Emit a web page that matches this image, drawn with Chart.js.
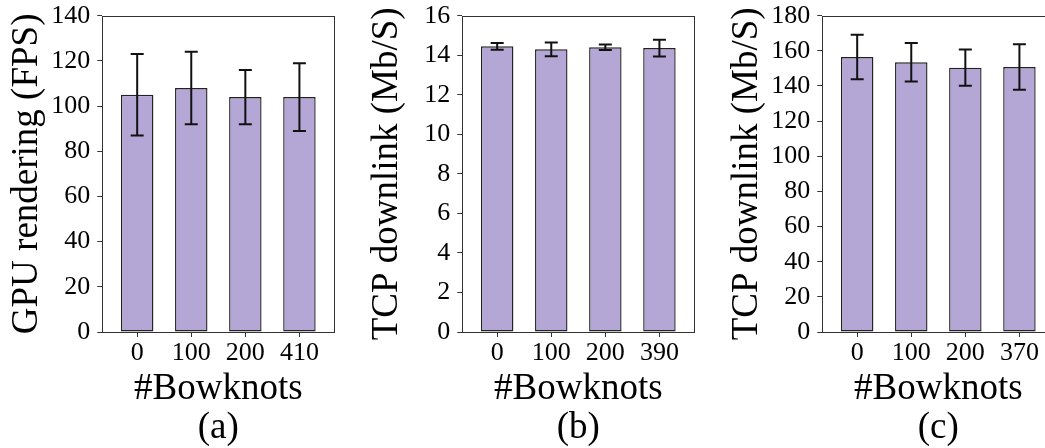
<!DOCTYPE html>
<html>
<head>
<meta charset="utf-8">
<script src="https://cdn.jsdelivr.net/npm/chart.js@4.4.1/dist/chart.umd.min.js"></script>
<style>
  html, body { margin: 0; padding: 0; background: #fff; overflow: hidden; }
  .panel { position: absolute; top: 0; width: 360px; height: 448px; }
</style>
</head>
<body>
<div class="panel" style="left:0px"><canvas id="chartA" width="360" height="448"></canvas></div>
<div class="panel" style="left:360px"><canvas id="chartB" width="360" height="448"></canvas></div>
<div class="panel" style="left:720px"><canvas id="chartC" width="360" height="448"></canvas></div>
<script>
// data
const bowknotsA = ['0', '100', '200', '410'];
const bowknotsB = ['0', '100', '200', '390'];
const bowknotsC = ['0', '100', '200', '370'];

const gpuFps = [105, 108, 104, 104];
const gpuFpsErr = [18, 16, 12, 15];

const tcpSmall = [14.45, 14.3, 14.4, 14.36];
const tcpSmallErr = [0.17, 0.35, 0.14, 0.42];

const tcpLarge = [156.5, 153.5, 150.4, 150.8];
const tcpLargeErr = [12.7, 11, 10.3, 13];

const barFill = '#b4a7d6';
const serif = "'Liberation Serif', 'Times New Roman', serif";

function makeChart(id, labels, values, errs, yMax, yStep, yTitle, caption) {
    const ctx = document.getElementById(id).getContext('2d');

    // error bars drawn through the chart's own scales
    const errorBars = {
        id: 'errorBars',
        afterDatasetsDraw(chart) {
            const xs = chart.scales.x, ys = chart.scales.y;
            const c = chart.ctx;
            c.save();
            c.strokeStyle = '#111';
            c.lineWidth = 2;
            values.forEach((v, i) => {
                const px = xs.getPixelForValue(i);
                const top = ys.getPixelForValue(v + errs[i]);
                const bot = ys.getPixelForValue(v - errs[i]);
                c.beginPath();
                c.moveTo(px, top); c.lineTo(px, bot);
                c.moveTo(px - 6.5, top); c.lineTo(px + 6.5, top);
                c.moveTo(px - 6.5, bot); c.lineTo(px + 6.5, bot);
                c.stroke();
            });
            c.restore();
        }
    };

    // box around the plot area
    const frame = {
        id: 'frame',
        afterDraw(chart) {
            const a = chart.chartArea;
            const c = chart.ctx;
            c.save();
            c.strokeStyle = '#333';
            c.lineWidth = 1;
            c.strokeRect(Math.round(a.left) + 0.5, Math.round(a.top) + 0.5,
                Math.round(a.right - a.left), Math.round(a.bottom - a.top));
            c.restore();
        }
    };

    return new Chart(ctx, {
        type: 'bar',
        data: {
            datasets: [{
                data: values.map((v, i) => ({ x: i, y: v })),
                backgroundColor: barFill,
                borderColor: '#222',
                borderWidth: 1.4,
                borderSkipped: false,
                categoryPercentage: 1,
                barPercentage: 0.6
            }]
        },
        options: {
            responsive: false,
            animation: false,
            devicePixelRatio: 1,
            layout: { padding: { left: 0, right: 25.7, top: 15.7, bottom: 0 } },
            plugins: {
                legend: { display: false },
                tooltip: { enabled: false }
            },
            scales: {
                x: {
                    type: 'linear',
                    min: -0.645,
                    max: 3.645,
                    offset: false,
                    afterBuildTicks: (scale) => {
                        scale.ticks = labels.map((_, i) => ({ value: i }));
                    },
                    afterFit: (scale) => {
                        scale.height = 116;
                        scale.paddingLeft = 0;
                        scale.paddingRight = 0;
                    },
                    ticks: {
                        autoSkip: false,
                        maxRotation: 0,
                        padding: 1,
                        color: '#000',
                        font: { family: serif, size: 26, lineHeight: 1.2 },
                        callback: (v) => labels[v]
                    },
                    grid: {
                        display: true,
                        drawOnChartArea: false,
                        drawTicks: true,
                        tickLength: 5,
                        color: '#333',
                        offset: false
                    },
                    border: { display: false },
                    title: {
                        display: true,
                        text: ['#Bowknots', caption],
                        color: '#000',
                        padding: { top: 0, bottom: 0 },
                        font: { family: serif, size: 37, lineHeight: 1.05 }
                    }
                },
                y: {
                    min: 0,
                    max: yMax,
                    afterFit: (scale) => {
                        scale.width = 102.3;
                        scale.paddingTop = 0;
                        scale.paddingBottom = 0;
                    },
                    ticks: {
                        stepSize: yStep,
                        padding: 7,
                        color: '#000',
                        font: { family: serif, size: 26 }
                    },
                    grid: {
                        display: true,
                        drawOnChartArea: false,
                        drawTicks: true,
                        tickLength: 5,
                        color: '#333'
                    },
                    border: { display: false },
                    title: {
                        display: true,
                        text: yTitle,
                        color: '#000',
                        padding: { top: 7.6, bottom: 0 },
                        font: { family: serif, size: 37, lineHeight: 1.05 }
                    }
                }
            }
        },
        plugins: [errorBars, frame]
    });
}

makeChart('chartA', bowknotsA, gpuFps, gpuFpsErr, 140, 20, 'GPU rendering (FPS)', '(a)');
makeChart('chartB', bowknotsB, tcpSmall, tcpSmallErr, 16, 2, 'TCP downlink (Mb/S)', '(b)');
makeChart('chartC', bowknotsC, tcpLarge, tcpLargeErr, 180, 20, 'TCP downlink (Mb/S)', '(c)');
</script>
</body>
</html>
